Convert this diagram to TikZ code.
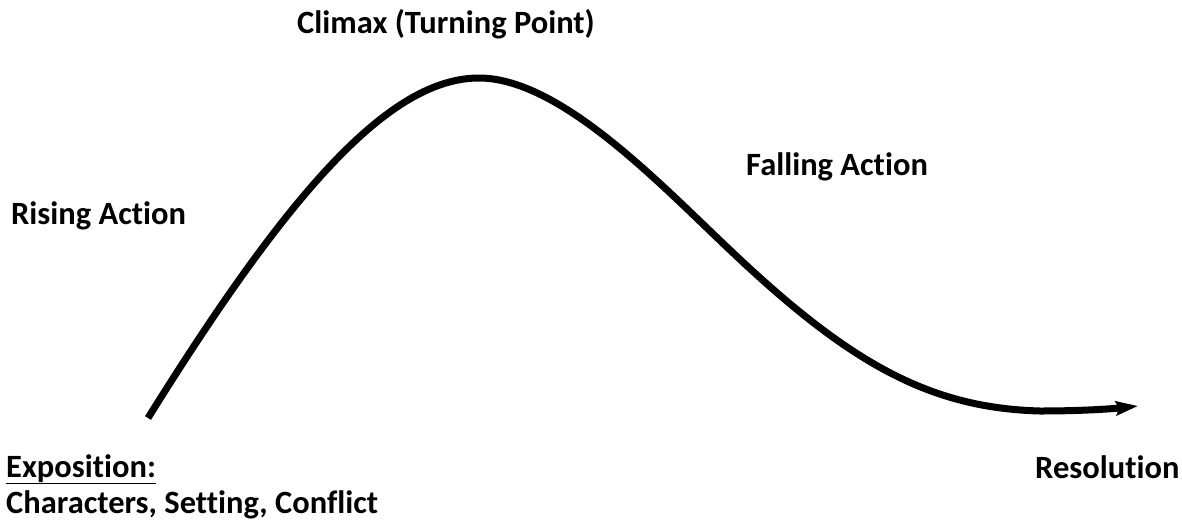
\documentclass[tikz,border=0pt]{standalone}
\usepackage{fontspec}
\setmainfont{Carlito}[Ligatures=NoCommon]
\usetikzlibrary{arrows.meta}
\begin{document}
\begin{tikzpicture}[x=1pt,y=-1pt,
  lbl/.style={font=\fontsize{32.5}{38}\selectfont\bfseries, anchor=base west, inner sep=0pt},
  arc/.style={line width=7pt, -{Stealth[length=22pt,width=14pt,inset=3pt]}}]
\useasboundingbox (0,0) rectangle (1182,522);
\node[lbl] (climax) at (297,33) {Climax (Turning Point)};
\node[lbl] (rising) at (11,224) {Rising Action};
\node[lbl] (falling) at (746,175) {Falling Action};
\node[lbl] (expo) at (6,477) {\underline{Exposition:}};
\node[lbl] (chars) at (6,513) {Characters, Setting, Conflict};
\node[lbl] (resol) at (1035,478) {Resolution};
\coordinate (s) at (148,418);
\coordinate (e) at (1138,406);
\draw[arc] (s) .. controls (290,190) and (390,78) .. (479,78)
  .. controls (560,78) and (660,184) .. (730,250)
  .. controls (850,364) and (930,408) .. (1040,411)
  .. controls (1080,411) and (1110,409) .. (e);
\end{tikzpicture}
\end{document}
